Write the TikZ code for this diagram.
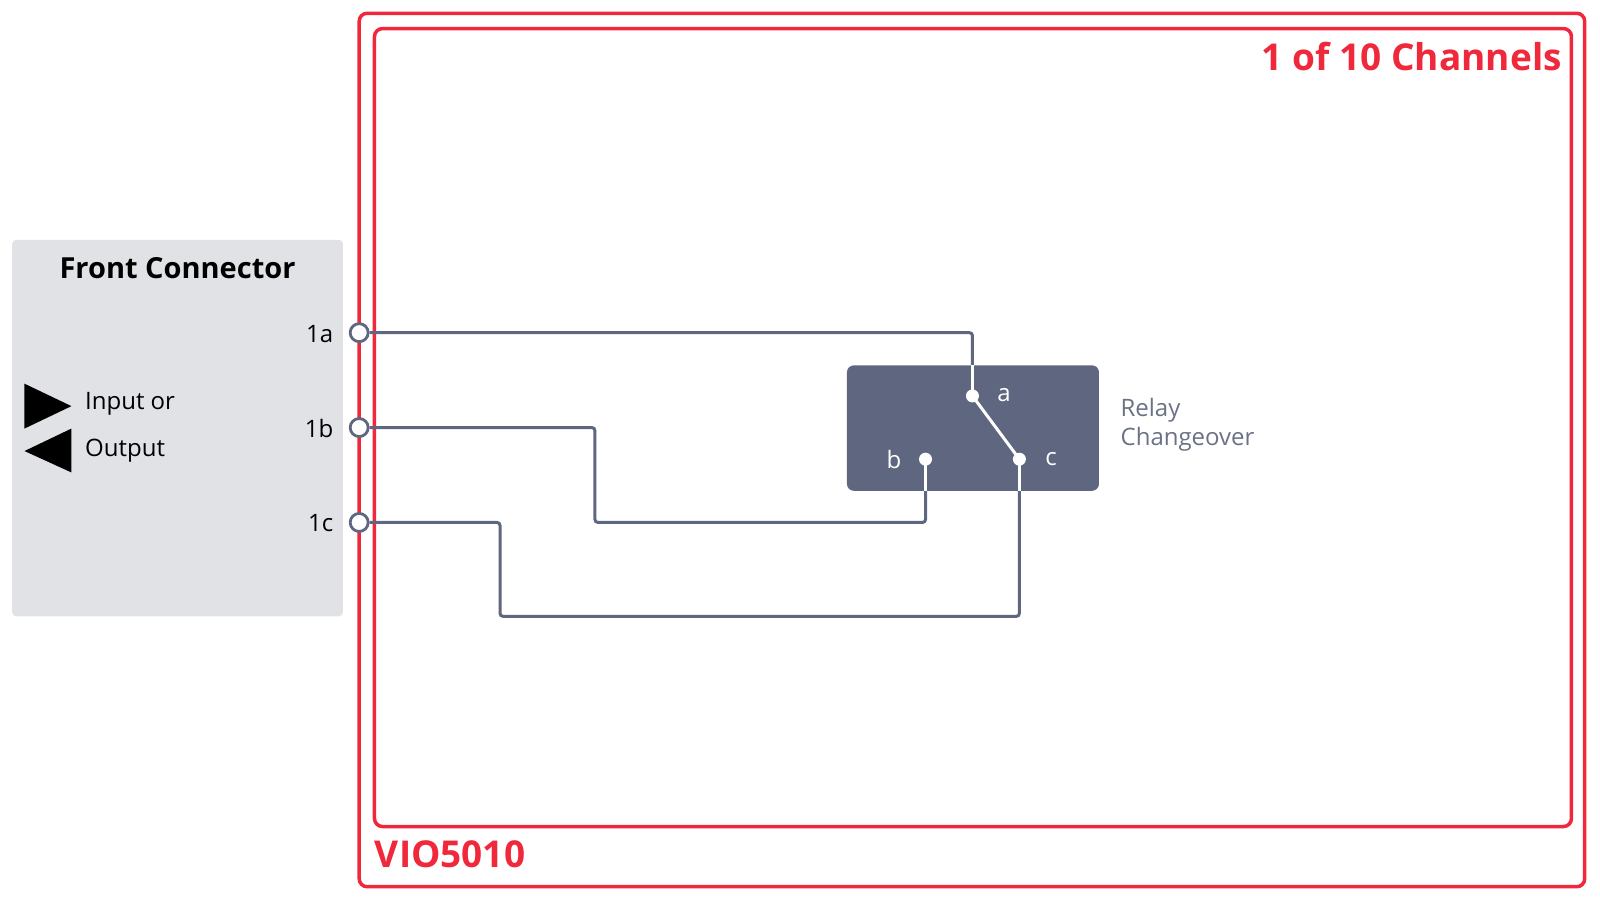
\documentclass[tikz,border=0pt]{standalone}
\usepackage{fontspec}
\setmainfont{Open Sans}
\begin{document}
\begin{tikzpicture}[x=1.0204pt,y=-1.0204pt,
  red/.style={draw=myred,line width=3.5pt,rounded corners=8pt},
  wire/.style={draw=wgray,line width=3pt,rounded corners=3pt},
  term/.style={circle,draw=wgray,fill=white,line width=2.8pt,minimum size=18pt,inner sep=0pt},
  dot/.style={circle,fill=white,minimum size=13pt,inner sep=0pt},
  lab/.style={font=\fontsize{24}{28}\selectfont},
  wlab/.style={font=\fontsize{24}{28}\selectfont,text=white}]
\definecolor{myred}{HTML}{F0283C}
\definecolor{wgray}{HTML}{5F6780}
\definecolor{fgray}{HTML}{E1E2E6}
\definecolor{tgray}{HTML}{6B7285}
\useasboundingbox (0,0) rectangle (1568,882);
\fill[fgray,rounded corners=4pt] (12,235) rectangle (336,604);
\node[font=\fontsize{29}{34}\selectfont\bfseries] (fc) at (174,263) {Front Connector};
\fill[black] (24,376) -- (70,398) -- (24,420) -- cycle;
\fill[black] (70,420) -- (24,442) -- (70,463) -- cycle;
\node[lab,anchor=west] (io1) at (80,396) {Input or};
\node[lab,anchor=west] (io2) at (80,442) {Output};
\draw[red] (352,13) rectangle (1553,869);
\draw[red] (367,28) rectangle (1540,810);
\node[font=\fontsize{37}{42}\selectfont\bfseries,text=myred,anchor=east] (ch) at (1534,55) {1 of 10 Channels};
\node[font=\fontsize{37}{42}\selectfont\bfseries,text=myred,anchor=west] (vio) at (364,837) {VIO5010};
\fill[wgray,rounded corners=7pt] (830,358) rectangle (1077,481);
\node[dot] (a) at (953,388) {};
\node[dot] (b) at (907,450) {};
\node[dot] (c) at (999,450) {};
\node[wlab] (la) at (984,387) {a};
\node[wlab] (lb) at (876,450) {b};
\node[wlab] (lc) at (1030,450) {c};
\draw[white,line width=3pt] (a.center) -- (c.center);
\coordinate (ta) at (953,358);
\coordinate (tb) at (907,481);
\coordinate (tc) at (999,481);
\node[term] (t1) at (352,326) {};
\node[term] (t2) at (352,419) {};
\node[term] (t3) at (352,512) {};
\draw[wire] (t1.east) -- (953,326) -- (ta);
\draw[wire] (t2.east) -- (583,419) -- (583,512) -- (907,512) -- (tb);
\draw[wire] (t3.east) -- (490,512) -- (490,604) -- (999,604) -- (tc);
\draw[white,line width=3pt] (ta) -- (a.center) (tb) -- (b.center) (tc) -- (c.center);
\node[lab,anchor=east] (l1) at (330,327) {1a};
\node[lab,anchor=east] (l2) at (330,420) {1b};
\node[lab,anchor=east] (l3) at (330,513) {1c};
\node[lab,text=tgray,anchor=north west,align=left,inner sep=0pt] (rel) at (1098,390) {Relay\\[1pt]Changeover};
\end{tikzpicture}
\end{document}
